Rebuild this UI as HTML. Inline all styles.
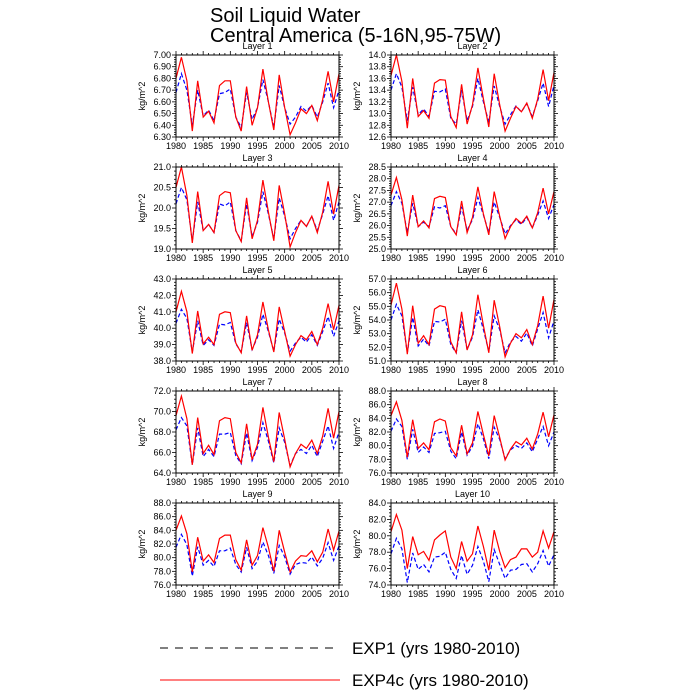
<!DOCTYPE html>
<html><head><meta charset="utf-8"><style>
html,body{margin:0;padding:0;background:#fff;}
svg{display:block;font-family:"Liberation Sans",sans-serif;}
</style></head><body>
<svg id="chart" width="700" height="700" viewBox="0 0 700 700">
<text x="210" y="22" font-size="20">Soil Liquid Water</text>
<text x="210" y="42" font-size="20">Central America (5-16N,95-75W)</text>
<line x1="160" y1="648" x2="340" y2="648" stroke="#000" stroke-width="1" stroke-dasharray="8,7"/>
<text x="352" y="654" font-size="17">EXP1 (yrs 1980-2010)</text>
<line x1="160" y1="680" x2="340" y2="680" stroke="#f00" stroke-width="1"/>
<text x="352" y="686" font-size="17">EXP4c (yrs 1980-2010)</text>
</svg>
<script>
const years = [1980,1981,1982,1983,1984,1985,1986,1987,1988,1989,1990,1991,1992,1993,1994,1995,1996,1997,1998,1999,2000,2001,2002,2003,2004,2005,2006,2007,2008,2009,2010];
const xTicks = [1980,1985,1990,1995,2000,2005,2010];
const red1 = [6.80,6.98,6.78,6.35,6.78,6.47,6.52,6.42,6.74,6.78,6.78,6.47,6.35,6.73,6.40,6.55,6.88,6.60,6.36,6.83,6.55,6.32,6.42,6.54,6.50,6.57,6.44,6.62,6.86,6.60,6.84];
const blue1 = [6.68,6.84,6.70,6.40,6.70,6.48,6.53,6.44,6.67,6.68,6.71,6.47,6.38,6.68,6.45,6.55,6.79,6.60,6.38,6.74,6.55,6.41,6.47,6.56,6.52,6.57,6.47,6.60,6.76,6.55,6.70];
const red2 = [13.65,14.0,13.55,12.75,13.6,12.95,13.05,12.92,13.52,13.58,13.57,12.95,12.76,13.5,12.82,13.15,13.78,13.25,12.77,13.68,13.15,12.70,12.92,13.12,13.03,13.18,12.92,13.25,13.75,13.22,13.70];
const blue2 = [13.40,13.68,13.45,12.88,13.45,12.98,13.08,12.95,13.38,13.37,13.42,12.92,12.82,13.40,12.88,13.12,13.60,13.20,12.85,13.47,13.12,12.82,12.98,13.13,13.03,13.17,12.95,13.22,13.52,13.12,13.48];
const red3 = [20.5,21.0,20.3,19.15,20.4,19.45,19.6,19.4,20.3,20.4,20.37,19.45,19.18,20.25,19.25,19.7,20.68,19.9,19.2,20.55,19.85,19.05,19.4,19.7,19.55,19.8,19.4,19.9,20.65,19.85,20.55];
const blue3 = [20.1,20.5,20.2,19.2,20.15,19.45,19.6,19.4,20.1,20.05,20.15,19.45,19.2,20.1,19.3,19.65,20.4,19.85,19.25,20.25,19.8,19.25,19.5,19.7,19.55,19.8,19.45,19.85,20.3,19.7,20.15];
const red4 = [27.3,28.05,27.1,25.55,27.3,25.95,26.2,25.9,27.15,27.25,27.2,25.95,25.6,27.05,25.7,26.35,27.65,26.5,25.6,27.45,26.4,25.45,25.95,26.3,26.1,26.4,25.9,26.55,27.6,26.5,27.45];
const blue4 = [26.85,27.45,26.95,25.7,26.95,25.95,26.15,25.95,26.8,26.75,26.85,25.95,25.65,26.8,25.8,26.25,27.2,26.45,25.7,27.0,26.35,25.65,26.0,26.25,26.05,26.35,25.9,26.45,27.05,26.3,26.9];
const red5 = [41.0,42.25,41.0,38.45,41.05,39.05,39.45,39.0,40.85,41.0,40.95,39.1,38.5,40.75,38.65,39.6,41.6,39.9,38.55,41.3,39.8,38.3,39.0,39.55,39.3,39.8,39.0,40.0,41.5,39.9,41.4];
const blue5 = [40.3,41.15,40.6,38.55,40.45,38.95,39.3,38.95,40.25,40.2,40.35,39.05,38.55,40.35,38.7,39.45,40.85,39.8,38.6,40.55,39.7,38.6,39.1,39.45,39.15,39.6,38.95,39.8,40.7,39.5,40.45];
const red6 = [55.1,56.7,54.8,51.5,55.05,52.3,52.85,52.2,54.8,55.05,54.95,52.4,51.6,54.6,51.8,52.9,55.85,53.6,51.6,55.45,53.5,51.3,52.3,53.0,52.7,53.3,52.2,53.6,55.75,53.4,55.5];
const blue6 = [54.0,55.15,54.3,51.6,54.2,52.1,52.6,52.1,53.9,53.85,54.05,52.2,51.6,53.95,51.85,52.75,54.75,53.3,51.7,54.3,53.3,51.6,52.4,52.8,52.45,53.05,52.1,53.35,54.55,52.7,53.95];
const red7 = [69.6,71.5,69.3,64.8,69.4,65.9,66.7,65.8,69.1,69.4,69.3,66.0,65.0,68.8,65.3,66.8,70.4,67.5,65.1,69.9,67.3,64.6,65.9,66.8,66.4,67.2,65.9,67.6,70.3,67.4,70.0];
const blue7 = [68.2,69.4,68.6,64.8,68.4,65.6,66.3,65.6,67.8,67.8,67.95,65.7,64.9,67.9,65.2,66.5,68.9,67.1,65.0,68.4,67.0,64.7,65.9,66.3,65.9,66.7,65.6,67.1,68.6,66.4,68.0];
const red8 = [84.4,86.4,83.7,78.3,83.8,79.6,80.4,79.4,83.5,83.9,83.6,79.7,78.5,83.0,78.8,80.4,85.0,81.6,78.5,84.4,81.2,77.9,79.5,80.6,80.1,81.1,79.5,81.7,84.9,81.3,84.5];
const blue8 = [82.1,83.9,82.8,78.0,82.4,79.0,79.8,79.0,81.8,81.9,82.1,79.2,78.1,82.0,78.6,79.9,83.2,81.0,78.1,82.7,80.9,78.1,79.4,80.0,79.6,80.4,79.1,81.0,82.8,80.0,82.0];
const red9 = [84.0,86.1,83.5,77.9,83.0,79.5,80.4,79.3,82.8,83.3,83.3,79.7,78.2,82.6,78.9,80.3,84.4,81.5,78.0,84.0,80.8,77.9,79.5,80.3,80.2,81.0,79.4,80.8,84.2,81.1,83.9];
const blue9 = [81.5,83.4,81.9,77.3,81.6,78.9,79.6,78.7,81.0,81.0,81.4,79.0,77.9,81.5,78.4,79.5,82.3,80.3,77.7,81.8,80.1,77.6,79.0,79.3,79.2,80.1,78.8,79.9,82.2,79.6,81.7];
const red10 = [80.5,82.6,80.7,76.0,79.9,77.7,78.1,77.0,79.5,80.1,80.6,77.4,76.0,79.3,76.9,77.8,81.2,78.7,75.8,80.7,78.1,76.1,77.1,77.4,78.4,78.4,77.4,78.0,80.6,78.5,80.5];
const blue10 = [77.8,79.7,78.4,74.3,77.9,75.9,76.5,75.6,77.4,77.5,78.0,75.9,74.8,77.6,75.3,76.4,78.7,76.9,74.4,78.3,76.5,74.8,75.8,75.9,76.5,76.6,75.6,76.6,78.2,76.3,77.7];
const yMins = [6.3,12.6,19.0,25.0,38,51,64,76,76,74];
const yMaxs = [7.0,14.0,21.0,28.5,43,57,72,88,88,84];
const yStepTicks = [0.1,0.2,0.5,0.5,1,1,2,2,2,2];
const yDecimals = [2,1,1,1,1,1,1,1,1,1];
const reds = [red1,red2,red3,red4,red5,red6,red7,red8,red9,red10];
const blues = [blue1,blue2,blue3,blue4,blue5,blue6,blue7,blue8,blue9,blue10];

const NS = "http://www.w3.org/2000/svg";
const svg = document.getElementById('chart');
function mk(tag, attrs, parent){ const e=document.createElementNS(NS,tag); for(const k in attrs) e.setAttribute(k,attrs[k]); (parent||svg).appendChild(e); return e; }
const colX = [176, 391], rowY0 = 55, rowStep = 112, PW = 163, PH = 82;

for (let i=0;i<10;i++){
  const left = colX[i%2], top = rowY0 + Math.floor(i/2)*rowStep;
  const g = mk('g',{});
  
  
  const xs = y => left + (y-1980)/30*PW;
  const ys = v => top + PH - (v-yMins[i])/(yMaxs[i]-yMins[i])*PH;
  for (let yr=1980; yr<=2010; yr++){
    const major = (yr%5===0), L = major?4:2, x=xs(yr);
    const t1 = mk('line',{x1:x,y1:top+PH,x2:x,y2:top+PH+L,stroke:'#000','stroke-width':0.8},g);
    
    
    const t2 = mk('line',{x1:x,y1:top,x2:x,y2:top-L,stroke:'#000','stroke-width':0.8},g);
    
    
  }
  xTicks.forEach(yr=>{
    const t = mk('text',{x:xs(yr),y:top+PH+12,'font-size':9,'text-anchor':'middle'},g);
    t.textContent = yr;
    
    
  });
  const step = yStepTicks[i], n = Math.round((yMaxs[i]-yMins[i])/step);
  for (let k=0;k<=n*5;k++){
    const v = yMins[i] + k*step/5, y = ys(v), major = (k%5===0), L = major?4:2;
    const a = mk('line',{x1:left,y1:y,x2:left-L,y2:y,stroke:'#000','stroke-width':0.8},g);
    
    
    const b = mk('line',{x1:left+PW,y1:y,x2:left+PW+L,y2:y,stroke:'#000','stroke-width':0.8},g);
    
    
    if (major){
      const t = mk('text',{x:left-5,y:y+3,'font-size':9,'text-anchor':'end'},g);
      t.textContent = v.toFixed(yDecimals[i]);
      
      
    }
  }
  const yl = mk('text',{x:0,y:0,'font-size':9,'text-anchor':'middle',transform:`translate(${left-31},${top+PH/2}) rotate(-90)`},g);
  yl.textContent = 'kg/m^2';
  
  
  const tt = mk('text',{x:left+PW/2,y:top-6,'font-size':9,'text-anchor':'middle'},g);
  tt.textContent = 'Layer '+(i+1);
  
  
  const pr = years.map((yr,j)=>xs(yr).toFixed(1)+','+ys(reds[i][j]).toFixed(1)).join(' ');
  const pb = years.map((yr,j)=>xs(yr).toFixed(1)+','+ys(blues[i][j]).toFixed(1)).join(' ');
  const lb = mk('polyline',{points:pb,fill:'none',stroke:'#00f','stroke-width':1.2,'stroke-dasharray':'4,2.5'},g);
  
  
  const lr = mk('polyline',{points:pr,fill:'none',stroke:'#f00','stroke-width':1.2},g);
  
  
  const fr = mk('rect',{x:left,y:top,width:PW,height:PH,fill:'none',stroke:'#000','stroke-width':1},g);
  
  
}
</script>
</body></html>
